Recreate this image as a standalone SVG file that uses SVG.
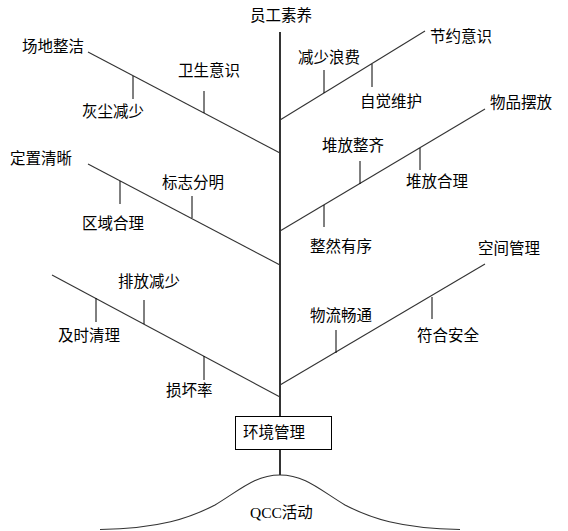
<svg xmlns="http://www.w3.org/2000/svg" width="568" height="531" viewBox="0 0 568 531">
<style>
text{font-family:"Noto Sans CJK SC","Noto Sans CJK TC",sans-serif;font-size:15.5px;fill:#000}
.b{stroke:#333;stroke-width:1.1;fill:none}
.t{stroke:#000;stroke-width:1;fill:none}
.trunk{stroke:#000;stroke-width:1.6;fill:none}
.box{fill:#fff;stroke:#000;stroke-width:1}
.q{font-family:"Liberation Serif","Noto Sans CJK SC",serif}
</style>
<rect width="568" height="531" fill="#fff"/>
<g id="connectors">
<line class="trunk" x1="280" y1="32" x2="280" y2="416"/>
<line class="trunk" x1="280" y1="450" x2="280" y2="475"/>
<!-- left branches -->
<line class="b" x1="88" y1="52" x2="280" y2="153"/>
<line class="b" x1="88" y1="164" x2="280" y2="265"/>
<line class="b" x1="52" y1="275" x2="280" y2="397"/>
<!-- right branches -->
<line class="b" x1="280" y1="120" x2="425" y2="31"/>
<line class="b" x1="280" y1="231" x2="485" y2="109"/>
<line class="b" x1="280" y1="385" x2="485" y2="264"/>
<!-- ticks -->
<line class="t" x1="133" y1="76" x2="133" y2="99"/>
<line class="t" x1="204" y1="91" x2="204" y2="113"/>
<line class="t" x1="324" y1="70" x2="324" y2="93"/>
<line class="t" x1="372" y1="64" x2="372" y2="87"/>
<line class="t" x1="360" y1="161" x2="360" y2="184"/>
<line class="t" x1="420" y1="148" x2="420" y2="170"/>
<line class="t" x1="324" y1="205" x2="324" y2="227"/>
<line class="t" x1="120" y1="181" x2="120" y2="204"/>
<line class="t" x1="192" y1="196" x2="192" y2="218"/>
<line class="t" x1="96" y1="298" x2="96" y2="322"/>
<line class="t" x1="144" y1="300" x2="144" y2="324"/>
<line class="t" x1="204" y1="356" x2="204" y2="380"/>
<line class="t" x1="336" y1="330" x2="336" y2="353"/>
<line class="t" x1="432" y1="297" x2="432" y2="319"/>
</g>
<g id="top"><text x="250" y="21">员工素养</text></g>
<g id="b1"><text x="22" y="52">场地整洁</text></g>
<g id="b1a"><text x="82" y="117">灰尘减少</text></g>
<g id="b1b"><text x="178" y="76">卫生意识</text></g>
<g id="b2"><text x="430" y="42">节约意识</text></g>
<g id="b2a"><text x="298" y="63">减少浪费</text></g>
<g id="b2b"><text x="360" y="107">自觉维护</text></g>
<g id="b3"><text x="10" y="164">定置清晰</text></g>
<g id="b3a"><text x="82" y="229">区域合理</text></g>
<g id="b3b"><text x="162" y="188">标志分明</text></g>
<g id="b4"><text x="490" y="108">物品摆放</text></g>
<g id="b4a"><text x="322" y="151">堆放整齐</text></g>
<g id="b4b"><text x="406" y="187">堆放合理</text></g>
<g id="b4c"><text x="310" y="252">整然有序</text></g>
<g id="b5"><text x="118" y="287">排放减少</text></g>
<g id="b5a"><text x="58" y="341">及时清理</text></g>
<g id="b5b"><text x="166" y="396">损坏率</text></g>
<g id="b6"><text x="478" y="254">空间管理</text></g>
<g id="b6a"><text x="310" y="321">物流畅通</text></g>
<g id="b6b"><text x="417" y="341">符合安全</text></g>
<g id="env">
<rect class="box" x="235.5" y="416.5" width="96" height="33"/>
<text x="243" y="438">环境管理</text>
</g>
<g id="qcc">
<path class="b" d="M100,529.5 C160,528.5 190,518 215,505 C240,490 255,475 280,475 C305,475 320,490 345,505 C370,518 400,528.5 460,529.5"/>
<text class="q" x="250" y="518">QCC活动</text>
</g>
</svg>
